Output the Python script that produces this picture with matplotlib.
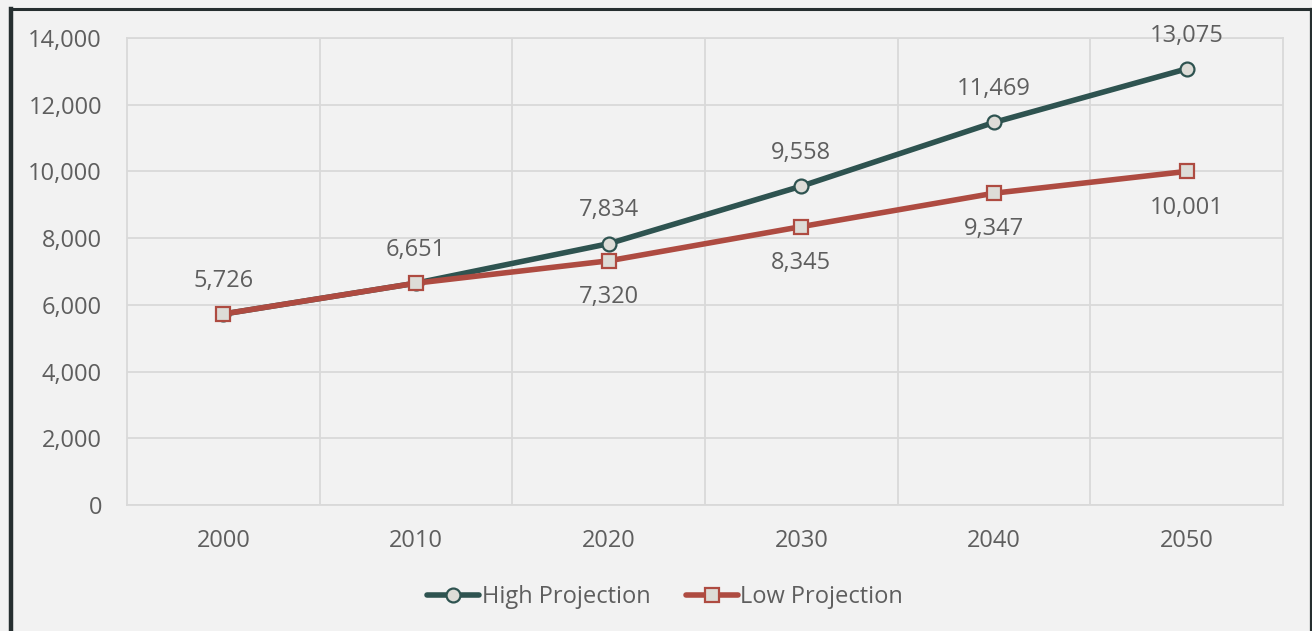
import matplotlib.pyplot as plt
from matplotlib.lines import Line2D

years = ["2000", "2010", "2020", "2030", "2040", "2050"]
high_projection = [5726, 6651, 7834, 9558, 11469, 13075]
low_projection = [5726, 6651, 7320, 8345, 9347, 10001]
y_ticks = [0, 2000, 4000, 6000, 8000, 10000, 12000, 14000]

HIGH_COLOR = "#2E5350"
LOW_COLOR = "#AE4B41"
FACE = "#DDDCD7"
TEXT = "#5E5E5E"
GRID = "#D9D9D9"
BG = "#F2F2F2"
FS = 17

plt.rcParams["font.family"] = ["Open Sans", "DejaVu Sans"]

fig = plt.figure(figsize=(13.12, 6.31), dpi=100, facecolor=BG)
ax = fig.add_axes([127 / 1312, 1 - 505 / 631, (1283 - 127) / 1312, (505 - 38) / 631])
ax.set_facecolor(BG)

x = list(range(len(years)))
ax.plot(x, high_projection, color=HIGH_COLOR, lw=4, marker="o", ms=10,
        mfc=FACE, mec=HIGH_COLOR, mew=1.6, zorder=3, solid_capstyle="round")
ax.plot(x, low_projection, color=LOW_COLOR, lw=4, marker="s", ms=10,
        mfc=FACE, mec=LOW_COLOR, mew=1.6, zorder=4, solid_capstyle="round")

# value labels: high series above its points, low series below (from 2020 on)
for i, v in enumerate(high_projection):
    ax.annotate(f"{v:,}", (i, v), xytext=(0, 24), textcoords="offset points",
                ha="center", va="center", fontsize=FS, color=TEXT)
for i, v in enumerate(low_projection):
    if i < 2:
        continue
    ax.annotate(f"{v:,}", (i, v), xytext=(0, -26), textcoords="offset points",
                ha="center", va="center", fontsize=FS, color=TEXT)

ax.set_xlim(-0.5, len(years) - 0.5)
ax.set_ylim(0, 14000)
ax.set_yticks(y_ticks)
ax.set_yticklabels([f"{t:,}" for t in y_ticks])
ax.set_xticks(x)
ax.set_xticklabels(years)
ax.set_xticks([i + 0.5 for i in range(len(years) - 1)], minor=True)
ax.tick_params(axis="both", which="both", length=0, labelsize=FS, labelcolor=TEXT)
ax.tick_params(axis="y", pad=18)
ax.tick_params(axis="x", pad=17)

ax.grid(True, which="major", axis="y", color=GRID, lw=1.3)
ax.grid(True, which="minor", axis="x", color=GRID, lw=1.3)
ax.set_axisbelow(True)
for side, spine in ax.spines.items():
    spine.set_color(GRID)
    spine.set_linewidth(1.3)

handles = [
    Line2D([], [], color=HIGH_COLOR, lw=4, marker="o", ms=10, mfc=FACE,
           mec=HIGH_COLOR, mew=1.6, solid_capstyle="round"),
    Line2D([], [], color=LOW_COLOR, lw=4, marker="s", ms=10, mfc=FACE,
           mec=LOW_COLOR, mew=1.6, solid_capstyle="round"),
]
fig.legend(handles, ["High Projection", "Low Projection"], loc="center",
           bbox_to_anchor=(665 / 1312, 1 - 597 / 631), ncol=2, frameon=False,
           fontsize=FS, labelcolor=TEXT, handlelength=2.2, handletextpad=0.1,
           columnspacing=1.5)

# dark frame around the chart area
fig.add_artist(Line2D([10.5 / 1312, 10.5 / 1312], [0, 1 - 9 / 631],
                      transform=fig.transFigure, color="#262F30", lw=3.2))
fig.add_artist(Line2D([10.5 / 1312, 1310.5 / 1312], [1 - 9 / 631, 1 - 9 / 631],
                      transform=fig.transFigure, color="#262F30", lw=2.2))
fig.add_artist(Line2D([1310.5 / 1312, 1310.5 / 1312], [0, 1 - 9 / 631],
                      transform=fig.transFigure, color="#262F30", lw=1.6))

fig.savefig("out.png", dpi=100, facecolor=BG)
